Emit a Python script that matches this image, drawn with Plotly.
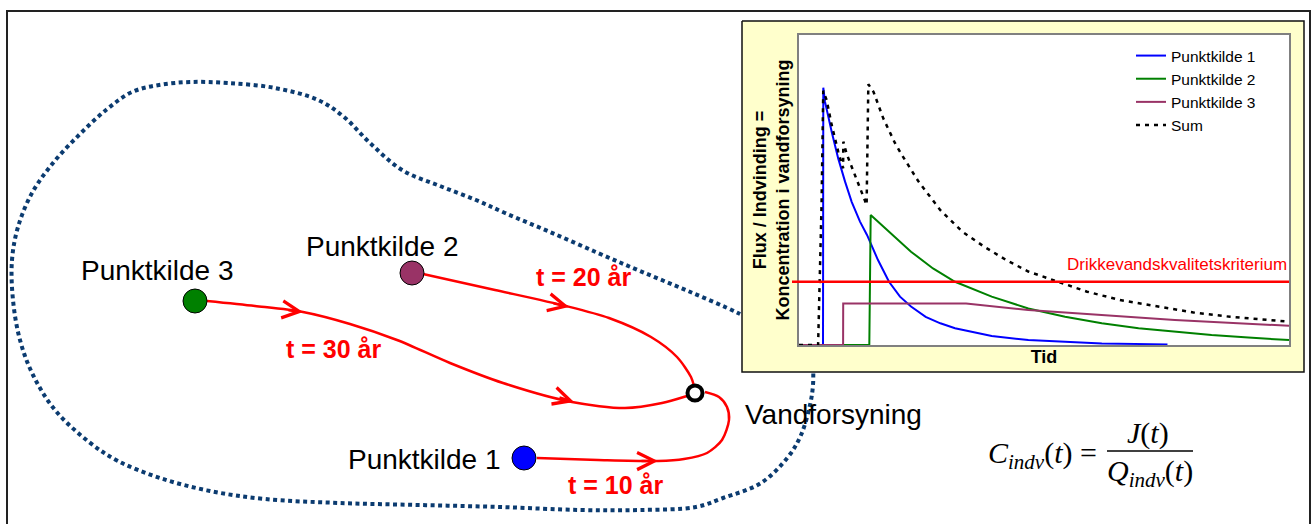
import plotly.graph_objects as go

W, H = 1314, 524

# ---------------- Inset chart data (time 0-100, response 0-100) ----------------
blue_x = [0, 4.9, 4.96, 5.3, 6.67, 8.0, 9.4, 10.75, 12.45, 13.88, 16.12, 18.37, 20.61,
          22.86, 25.85, 28.85, 31.84, 39.33, 46.8, 61.8, 75.2]
blue_y = [0, 0, 83.0, 78.5, 68.8, 60.2, 52.7, 46.2, 39.8, 35.5, 27.4, 20.4, 15.6,
          12.4, 9.1, 7.0, 5.4, 2.9, 1.6, 0.5, 0.2]

green_x = [0, 14.35, 14.63, 18.37, 22.86, 27.35, 31.84, 39.33, 46.8, 54.3, 61.8,
           69.3, 76.7, 84.2, 91.7, 100]
green_y = [0, 0, 41.9, 36.6, 30.1, 24.7, 20.4, 15.6, 11.8, 9.1, 7.0,
           5.4, 4.3, 3.2, 2.4, 1.6]

purple_x = [0, 9.0, 9.02, 34.1, 46.8, 61.8, 76.7, 100]
purple_y = [0, 0, 13.4, 13.4, 11.3, 9.7, 8.1, 6.2]

sum_x = [0, 3.9, 4.6, 4.95, 5.65, 6.67, 8.0, 9.0, 9.05, 9.7, 10.75, 11.8, 12.8, 13.8,
         14.15, 15.2, 17.2, 19.6, 21.0, 24.4, 28.85, 33.3, 37.8, 42.3, 46.8, 52.8,
         58.8, 65.5, 73.0, 80.5, 88.0, 100]
sum_y = [0, 0, 45, 82, 79, 71, 62.4, 57, 65.6, 61.8, 57.5, 53.2, 49.5, 45.2,
         84.1, 81.7, 73.1, 65.1, 61.3, 52.7, 43.5, 36.6, 31.7, 27.4, 23.7, 20.4,
         17.2, 14.5, 12.4, 10.5, 9.1, 7.5]

criterion = 20.4
series_names = ["Punktkilde 1", "Punktkilde 2", "Punktkilde 3", "Sum"]
criterion_label = "Drikkevandskvalitetskriterium"
x_title = "Tid"
y_title = "Flux / Indvinding =<br>Koncentration i vandforsyning"

# ---------------- Scene data (sketch coordinates) ----------------
source_names = ["Punktkilde 1", "Punktkilde 2", "Punktkilde 3"]
source_x = [524, 412, 195]
source_y = [458, 273, 301]
source_colors = ["#0000FF", "#993366", "#008000"]
label_x = [424, 382, 157]
label_y = [459, 246, 270]

well_name = "Vandforsyning"
well_x = [695]
well_y = [393]
well_label_xy = (833, 414)

path1_x = [537, 598, 658, 684, 707, 722, 729, 727, 719, 705]
path1_y = [458, 460, 461, 459, 453, 440, 420, 407, 397, 392]
path2_x = [423, 495, 566, 609, 651, 677, 691, 694]
path2_y = [274, 290, 306, 318, 337, 357, 377, 386]
path3_x = [207, 255, 303, 350, 397, 450, 503, 572, 625, 662, 687]
path3_y = [301, 306, 312, 324, 340, 363, 383, 402, 408, 403, 396]

time_labels = ["t = 10 år", "t = 20 år", "t = 30 år"]
time_label_x = [615, 583, 333]
time_label_y = [485, 277, 349]

# arrow tips and points just behind them along the paths
arrow_tip_x = [658, 569, 303, 574]
arrow_tip_y = [461, 307, 312, 402]
arrow_tail_x = [640, 552, 287, 558]
arrow_tail_y = [461, 303, 310, 397]

bnd_x = [760, 738, 688, 640, 598, 550, 505, 476, 440, 402, 370, 344, 318, 275, 228,
         190, 159, 132, 106, 79, 53, 32, 18, 12, 13, 20, 33, 55, 89, 118, 160, 210,
         265, 340, 420, 500, 580, 640, 696, 723, 761, 788, 801, 810, 813, 813]
bnd_y = [325, 313, 291, 271, 253, 232, 213, 200, 186, 170, 143, 117, 100, 88, 83,
         82, 85, 92, 110, 135, 163, 193, 227, 260, 300, 340, 375, 410, 442, 461, 478, 491,
         499, 503, 505, 507, 510, 510, 507, 498, 483, 457, 435, 405, 385, 360]

inset_box_x = [742, 1304, 1304, 742, 742]
inset_box_y = [21, 21, 372, 372, 21]
inset_plot_x = [799, 1289, 1289, 799, 799]
inset_plot_y = [35, 35, 345, 345, 35]
frame_x = [7, 7, 1310, 1310]
frame_y = [540, 11, 11, 540]

SANS = "Liberation Sans, Arial, sans-serif"
SERIF = "Liberation Serif, Times New Roman, serif"

fig = go.Figure()

# ---- scene (xy, pixel-like units) ----
fig.add_trace(go.Scatter(x=frame_x, y=frame_y, mode="lines",
                         line=dict(color="#222222", width=2), showlegend=False, hoverinfo="skip"))
fig.add_trace(go.Scatter(x=bnd_x, y=bnd_y, mode="lines",
                         line=dict(color="#0B3B70", width=4, dash="4px,3.5px", shape="spline", smoothing=1),
                         showlegend=False, hoverinfo="skip"))
fig.add_trace(go.Scatter(x=inset_box_x, y=inset_box_y, mode="lines", fill="toself",
                         fillcolor="#FFFFCC", line=dict(color="#111111", width=1.5),
                         showlegend=False, hoverinfo="skip"))
fig.add_trace(go.Scatter(x=inset_plot_x, y=inset_plot_y, mode="lines", fill="toself",
                         fillcolor="#FFFFFF", line=dict(color="rgba(0,0,0,0)", width=0),
                         showlegend=False, hoverinfo="skip"))
for px, py in [(path1_x, path1_y), (path2_x, path2_y), (path3_x, path3_y)]:
    fig.add_trace(go.Scatter(x=px, y=py, mode="lines",
                             line=dict(color="#FF0000", width=2.5, shape="spline", smoothing=0.8),
                             showlegend=False, hoverinfo="skip"))
fig.add_trace(go.Scatter(x=source_x, y=source_y, mode="markers",
                         marker=dict(size=24, color=source_colors, line=dict(color="#000000", width=1)),
                         showlegend=False, hoverinfo="skip"))
fig.add_trace(go.Scatter(x=well_x, y=well_y, mode="markers",
                         marker=dict(size=15, color="#FFFFFF", line=dict(color="#000000", width=4)),
                         showlegend=False, hoverinfo="skip"))

# ---- inset chart (x2y2) ----
fig.add_trace(go.Scatter(x=blue_x, y=blue_y, name=series_names[0], mode="lines",
                         line=dict(color="#0000FF", width=2), xaxis="x2", yaxis="y2"))
fig.add_trace(go.Scatter(x=green_x, y=green_y, name=series_names[1], mode="lines",
                         line=dict(color="#008000", width=2), xaxis="x2", yaxis="y2"))
fig.add_trace(go.Scatter(x=purple_x, y=purple_y, name=series_names[2], mode="lines",
                         line=dict(color="#993366", width=2), xaxis="x2", yaxis="y2"))
fig.add_trace(go.Scatter(x=sum_x, y=sum_y, name=series_names[3], mode="lines",
                         line=dict(color="#000000", width=2.5, dash="4px,5px"), xaxis="x2", yaxis="y2"))

annotations = []
for name, lx, ly in zip(source_names, label_x, label_y):
    annotations.append(dict(x=lx, y=ly, xref="x", yref="y", text=name, showarrow=False,
                            font=dict(family=SANS, size=28, color="#000000"),
                            xanchor="center", yanchor="middle"))
annotations.append(dict(x=well_label_xy[0], y=well_label_xy[1], xref="x", yref="y", text=well_name,
                        showarrow=False, font=dict(family=SANS, size=28, color="#000000"),
                        xanchor="center", yanchor="middle"))
for t, tx, ty in zip(time_labels, time_label_x, time_label_y):
    annotations.append(dict(x=tx, y=ty, xref="x", yref="y", text="<b>" + t + "</b>", showarrow=False,
                            font=dict(family=SANS, size=25, color="#FF0000"),
                            xanchor="center", yanchor="middle"))
for tx, ty, sx, sy in zip(arrow_tip_x, arrow_tip_y, arrow_tail_x, arrow_tail_y):
    annotations.append(dict(x=tx, y=ty, ax=sx, ay=sy, xref="x", yref="y", axref="x", ayref="y",
                            text="", showarrow=True, arrowhead=5, arrowsize=1.35, arrowwidth=2.5,
                            arrowcolor="#FF0000", standoff=0, startstandoff=0))
annotations.append(dict(x=100, y=criterion, xref="x2", yref="y2", text=criterion_label, showarrow=False,
                        font=dict(family=SANS, size=17, color="#FF0000"),
                        xanchor="right", yanchor="bottom", yshift=6))
# formula
annotations.append(dict(x=1099, y=455, xref="x", yref="y",
                        text="<i>C</i><sub><i>indv</i></sub>(<i>t</i>) =", showarrow=False,
                        font=dict(family=SERIF, size=30, color="#000000"),
                        xanchor="right", yanchor="middle"))
annotations.append(dict(x=1148, y=433, xref="x", yref="y",
                        text="<i>J</i>(<i>t</i>)", showarrow=False,
                        font=dict(family=SERIF, size=30, color="#000000"),
                        xanchor="center", yanchor="middle"))
annotations.append(dict(x=1150, y=473, xref="x", yref="y",
                        text="<i>Q</i><sub><i>indv</i></sub>(<i>t</i>)", showarrow=False,
                        font=dict(family=SERIF, size=30, color="#000000"),
                        xanchor="center", yanchor="middle"))

shapes = [
    dict(type="line", xref="paper", yref="y2", x0=792 / W, x1=1289 / W, y0=criterion, y1=criterion,
         line=dict(color="#FF0000", width=2.5), layer="above"),
    dict(type="line", xref="x", yref="y", x0=1107, x1=1193, y0=451, y1=451,
         line=dict(color="#000000", width=1.5), layer="above"),
]

fig.update_layout(
    width=W, height=H, margin=dict(l=0, r=0, t=0, b=0),
    paper_bgcolor="white", plot_bgcolor="white",
    font=dict(family=SANS, color="#000000"),
    xaxis=dict(domain=[0, 1], range=[0, W], visible=False, fixedrange=True),
    yaxis=dict(domain=[0, 1], range=[H, 0], visible=False, fixedrange=True),
    xaxis2=dict(domain=[799 / W, 1289 / W], range=[0, 100], anchor="y2",
                showgrid=False, zeroline=False, showticklabels=False, ticks="",
                showline=True, mirror=True, linecolor="#808080", linewidth=1.5,
                title=dict(text="<b>" + x_title + "</b>", font=dict(family=SANS, size=18, color="#000"),
                           standoff=5)),
    yaxis2=dict(domain=[1 - 345 / H, 1 - 35 / H], range=[0, 100], anchor="x2",
                showgrid=False, zeroline=False, showticklabels=False, ticks="",
                showline=True, mirror=True, linecolor="#808080", linewidth=1.5,
                title=dict(text="<b>" + y_title + "</b>", font=dict(family=SANS, size=18, color="#000"),
                           standoff=3)),
    showlegend=True,
    legend=dict(x=1131 / W, y=1 - 39 / H, xanchor="left", yanchor="top",
                bgcolor="rgba(0,0,0,0)", borderwidth=0,
                font=dict(family=SANS, size=15.5, color="#000")),
    annotations=annotations,
    shapes=shapes,
)

fig.write_html("out.html", include_plotlyjs=True, config={"displayModeBar": False},
               post_script="document.body.style.margin='0';document.body.style.overflow='hidden';")
